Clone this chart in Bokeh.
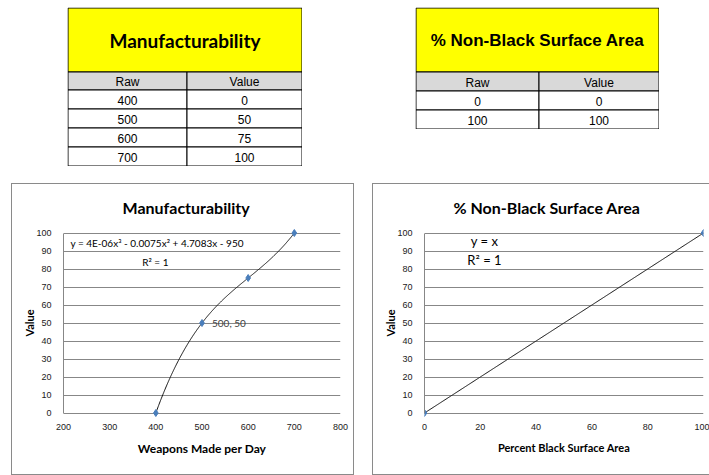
import numpy as np
from bokeh.plotting import figure
from bokeh.models import Range1d, FixedTicker, Spacer, Label
from bokeh.layouts import row, column
from bokeh.embed import file_html
from bokeh.resources import INLINE
from bokeh.core.properties import value

# ---------------- data ----------------
manuf_title = "Manufacturability"
manuf_raw = [400, 500, 600, 700]
manuf_value = [0, 50, 75, 100]
surface_title = "% Non-Black Surface Area"
surface_raw = [0, 100]
surface_value = [0, 100]
table_headers = ["Raw", "Value"]
manuf_xticks = [200, 300, 400, 500, 600, 700, 800]
surface_xticks = [0, 20, 40, 60, 80, 100]
value_yticks = [0, 10, 20, 30, 40, 50, 60, 70, 80, 90, 100]
manuf_xlabel = "Weapons Made per Day"
surface_xlabel = "Percent Black Surface Area"
y_label = "Value"
manuf_equation = "y = 4E-06x³ - 0.0075x² + 4.7083x - 950"
surface_equation = "y = x"
r_squared = "R² = 1"

# ---------------- styles ----------------
CAL = "Lato"
ARIAL = "Liberation Sans"
GRID = "#878787"
BLUE = "#4A7EBB"
CHART_H = 290


def make_table(title, font, size, raws, vals, width, head_h):
    title_h = 64
    row_h = 19
    n = len(raws)
    H = title_h + head_h + row_h * n + 1
    p = figure(width=width, height=H, x_range=Range1d(0, width), y_range=Range1d(H, 0),
               output_backend="svg", toolbar_location=None, min_border=0)
    p.axis.visible = False
    p.grid.visible = False
    p.outline_line_color = None
    p.background_fill_color = None
    p.border_fill_color = None
    xl, xr = 0.5, width - 0.5
    xm = round(width * 0.505) + 0.5
    y0 = 0.5
    y1 = title_h + 0.5
    y2 = y1 + head_h
    p.quad(left=[xl], right=[xr], top=[y0], bottom=[y1], fill_color="#FFFF00", line_color="black")
    p.quad(left=[xl, xm], right=[xm, xr], top=[y1, y1], bottom=[y2, y2],
           fill_color="#D9D9D9", line_color="black")
    tops = [y2 + row_h * i for i in range(n)]
    p.quad(left=[xl] * n + [xm] * n, right=[xm] * n + [xr] * n, top=tops * 2,
           bottom=[t + row_h for t in tops] * 2, fill_color="white", line_color="black")
    p.text(x=[width / 2], y=[title_h / 2 + 1], text=[title], text_font=value(font),
           text_font_style="bold", text_font_size=size, text_align="center",
           text_baseline="middle", text_color="black")
    cx = [(xl + xm) / 2, (xm + xr) / 2]
    body = dict(text_font=value(ARIAL), text_font_size="12px", text_align="center",
                text_baseline="middle", text_color="black")
    p.text(x=cx, y=[y1 + head_h / 2 + 1] * 2, text=table_headers, **body)
    p.text(x=[cx[0]] * n + [cx[1]] * n, y=[t + row_h / 2 + 1 for t in tops] * 2,
           text=[str(v) for v in raws] + [str(v) for v in vals], **body)
    return p


def make_chart(title, title_offset, xs, ys, x_range, xticks, xlabel, xlabel_size, width, deg,
               border_right):
    p = figure(width=width, height=CHART_H, x_range=x_range, y_range=Range1d(-2.5, 102.5),
               output_backend="svg", toolbar_location=None, min_border_left=51,
               min_border_right=border_right, min_border_top=44, min_border_bottom=57,
               title=title)
    p.title.align = "left"
    p.title.offset = title_offset
    p.title.vertical_align = "middle"
    p.title.standoff = 22
    p.title.text_font = CAL
    p.title.text_font_size = "16px"
    p.title.text_font_style = "bold"
    p.title.text_color = "black"
    p.outline_line_color = None
    p.xgrid.visible = False
    p.ygrid.ticker = FixedTicker(ticks=value_yticks)
    p.ygrid.grid_line_color = GRID
    p.xaxis.ticker = FixedTicker(ticks=xticks)
    p.yaxis.ticker = FixedTicker(ticks=value_yticks)
    p.yaxis.bounds = (0, 100)
    p.xaxis.axis_line_color = None
    p.yaxis.axis_line_color = GRID
    for ax in (p.xaxis[0], p.yaxis[0]):
        ax.major_tick_line_color = None
        ax.minor_tick_line_color = None
        ax.major_tick_out = 0
        ax.major_tick_in = 0
        ax.minor_tick_out = 0
        ax.minor_tick_in = 0
        ax.major_label_text_font = ARIAL
        ax.major_label_text_font_size = "9px"
        ax.major_label_text_color = "#1a1a1a"
        ax.axis_label_text_font = CAL
        ax.axis_label_text_font_style = "bold"
        ax.axis_label_text_color = "black"
    p.yaxis.major_label_standoff = 12
    p.xaxis.major_label_standoff = 6
    p.xaxis.axis_label = xlabel
    p.xaxis.axis_label_text_font_size = xlabel_size
    p.xaxis.axis_label_standoff = 8
    p.yaxis.axis_label = y_label
    p.yaxis.axis_label_text_font_size = "11px"
    p.yaxis.axis_label_standoff = -3
    coef = np.polyfit(xs, ys, deg)
    fx = np.linspace(min(xs), max(xs), 300)
    p.line(fx, np.polyval(coef, fx), line_color="#111111", line_width=1)
    p.scatter(xs, ys, marker="diamond", size=7, fill_color=BLUE, line_color=BLUE)
    p.styles = {"box-shadow": "0 0 0 1px #8a8a8a"}
    return p


t1 = make_table(manuf_title, CAL, "19px", manuf_raw, manuf_value, 235, 18)
t2 = make_table(surface_title, ARIAL, "17px", surface_raw, surface_value, 244, 19)

c1 = make_chart(manuf_title, 59, manuf_raw, manuf_value, Range1d(200, 800), manuf_xticks,
                manuf_xlabel, "12px", 341, 3, 13)
c1.add_layout(Label(x=215, y=94.4, text=manuf_equation, text_font=CAL, text_font_size="10px",
                    text_baseline="middle", text_color="black"))
c1.add_layout(Label(x=399, y=83.9, text=r_squared, text_font=CAL, text_font_size="10px",
                    text_baseline="middle", text_align="center", text_color="black"))
c1.text(x=[manuf_raw[1]], y=[manuf_value[1]], text=[f"{manuf_raw[1]}, {manuf_value[1]}"],
        x_offset=10, text_font=value(CAL), text_font_size="10px", text_baseline="middle",
        text_color="#404040")

c2 = make_chart(surface_title, 29, surface_raw, surface_value, Range1d(0, 100),
                surface_xticks, surface_xlabel, "11px", 336, 1, 6)
c2.add_layout(Label(x=21.5, y=95.6, text=surface_equation, text_font=CAL, text_font_size="13px",
                    text_baseline="middle", text_align="center", text_color="black"))
c2.add_layout(Label(x=21.5, y=85, text=r_squared, text_font=CAL, text_font_size="13px",
                    text_baseline="middle", text_align="center", text_color="black"))

top = row(Spacer(width=67), t1, Spacer(width=113), t2)
bottom = row(Spacer(width=12), c1, Spacer(width=20), c2)
layout = column(Spacer(height=7), top, Spacer(height=18), bottom)

open("out.html", "w").write(file_html(layout, INLINE))
